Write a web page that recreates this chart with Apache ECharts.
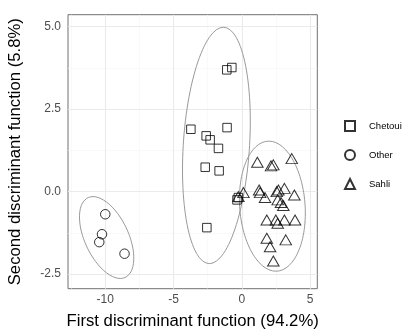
<!DOCTYPE html>
<html><head><meta charset="utf-8">
<script src="https://cdn.jsdelivr.net/npm/echarts@6/dist/echarts.min.js"></script>
<style>html,body{margin:0;padding:0;background:#fff}#c{width:403px;height:329px}</style>
</head><body><div id="c"></div>
<script>
const groups = ['Chetoui', 'Other', 'Sahli'];
const chetoui = [[-1.10,3.69],[-0.73,3.76],[-3.73,1.89],[-1.08,1.94],[-2.61,1.69],[-2.32,1.57],[-1.71,1.31],[-2.68,0.74],[-1.66,0.63],[-0.25,-0.18],[-0.35,-0.25],[-2.56,-1.09]];
const other = [[-10.0,-0.685],[-10.24,-1.29],[-10.44,-1.53],[-8.59,-1.88]];
const sahli = [[1.14,0.89],[2.14,0.78],[2.31,0.81],[3.66,1.0],[0.12,-0.03],[1.27,0.05],[1.34,-0.03],[1.70,-0.18],[2.56,0.0],[2.68,0.05],[3.12,0.10],[3.85,-0.10],[2.63,-0.25],[2.87,-0.33],[3.04,-0.42],[1.83,-0.86],[2.49,-0.86],[2.63,-0.96],[3.12,-0.86],[3.90,-0.86],[1.83,-1.41],[3.22,-1.46],[2.07,-1.67],[2.31,-2.10],[-0.25,-0.15]];
const xMajor = [-10, -5, 0, 5];
const xMinor = [-12.5, -7.5, -2.5, 2.5];
const yMajor = [-2.5, 0, 2.5, 5];
const yMinor = [-1.25, 1.25, 3.75];
const xTickLabels = ['-10', '-5', '0', '5'];
const yTickLabels = ['-2.5', '0.0', '2.5', '5.0'];
// ellipse (one per group): centre and two conjugate semi-axis vectors, data units
const ellipseCenters = [[-1.86,1.40],[-9.9,-1.39],[2.24,-0.44]];
const ellipseAxisA = [[0.51,3.58],[-1.0,1.24],[-0.26,1.97]];
const ellipseAxisB = [[2.43,0],[1.72,0],[2.40,0]];

function ellipsePts(i){
  const c = ellipseCenters[i], a = ellipseAxisA[i], b = ellipseAxisB[i];
  const pts = [];
  for (let k = 0; k <= 120; k++) {
    const t = k / 120 * Math.PI * 2;
    pts.push([c[0] + a[0]*Math.cos(t) + b[0]*Math.sin(t), c[1] + a[1]*Math.cos(t) + b[1]*Math.sin(t)]);
  }
  return pts;
}
const FONT = '"Liberation Sans", Arial, sans-serif';
const majorStyle = {color:'#ebebeb', width:1.1, type:'solid'};
const minorStyle = {color:'#f5f5f5', width:0.6, type:'solid'};
const gridLines = [
  ...xMinor.map(v => ({xAxis:v, lineStyle:minorStyle})),
  ...yMinor.map(v => ({yAxis:v, lineStyle:minorStyle})),
  ...xMajor.map(v => ({xAxis:v, lineStyle:majorStyle})),
  ...yMajor.map(v => ({yAxis:v, lineStyle:majorStyle}))
];
const ellipseSeries = [0,1,2].map(i => ({
  type:'line', name:'ellipse'+i, data:ellipsePts(i), showSymbol:false, symbol:'none',
  lineStyle:{color:'#9a9a9a', width:1}, silent:true, z:2,
  markLine: i === 0 ? {silent:true, symbol:['none','none'], label:{show:false}, data:gridLines, z:1, animation:false} : undefined
}));
const pointStyle = {color:'rgba(255,255,255,0)', borderColor:'#000', borderWidth:1};
const chart = echarts.init(document.getElementById('c'), null, {renderer:'canvas'});
chart.setOption({
  animation:false,
  backgroundColor:'#fff',
  textStyle:{fontFamily:FONT},
  grid:{left:68, right:85.7, top:14.7, bottom:40.3, show:true, borderColor:'#707070', borderWidth:1, backgroundColor:'#fff', containLabel:false, outerBoundsMode:'none'},
  legend:{
    data:groups, orient:'vertical', left:344, top:120, padding:0, itemWidth:10, itemHeight:10, itemGap:17,
    textStyle:{fontFamily:FONT, fontSize:9.5, color:'#000', padding:[0,0,0,9]}
  },
  xAxis:{
    type:'value', min:-12.73, max:5.53,
    name:'First discriminant function (94.2%)', nameLocation:'middle', nameGap:24,
    nameTextStyle:{fontFamily:FONT, fontSize:16.7, color:'#000'},
    axisLine:{show:false},
    axisTick:{show:true, length:3, lineStyle:{color:'#333'}, customValues:xMajor},
    axisLabel:{color:'#4d4d4d', fontSize:12, margin:5, customValues:xMajor,
      formatter:v => xTickLabels[xMajor.indexOf(v)]},
    splitLine:{show:false}
  },
  yAxis:{
    type:'value', min:-2.94, max:5.36,
    name:'Second discriminant function (5.8%)', nameLocation:'middle', nameGap:44,
    nameTextStyle:{fontFamily:FONT, fontSize:16.7, color:'#000'},
    axisLine:{show:false},
    axisTick:{show:true, length:3, lineStyle:{color:'#333'}, customValues:yMajor},
    axisLabel:{color:'#4d4d4d', fontSize:12, margin:7, customValues:yMajor,
      formatter:v => yTickLabels[yMajor.indexOf(v)]},
    splitLine:{show:false}
  },
  series:[
    ...ellipseSeries,
    {type:'scatter', name:'Chetoui', data:chetoui, symbol:'rect', symbolSize:8.5, itemStyle:pointStyle, z:3},
    {type:'scatter', name:'Other', data:other, symbol:'circle', symbolSize:9.5, itemStyle:pointStyle, z:3},
    {type:'scatter', name:'Sahli', data:sahli, symbol:'triangle', symbolSize:[11.5,10], itemStyle:pointStyle, z:3}
  ]
});
</script></body></html>
